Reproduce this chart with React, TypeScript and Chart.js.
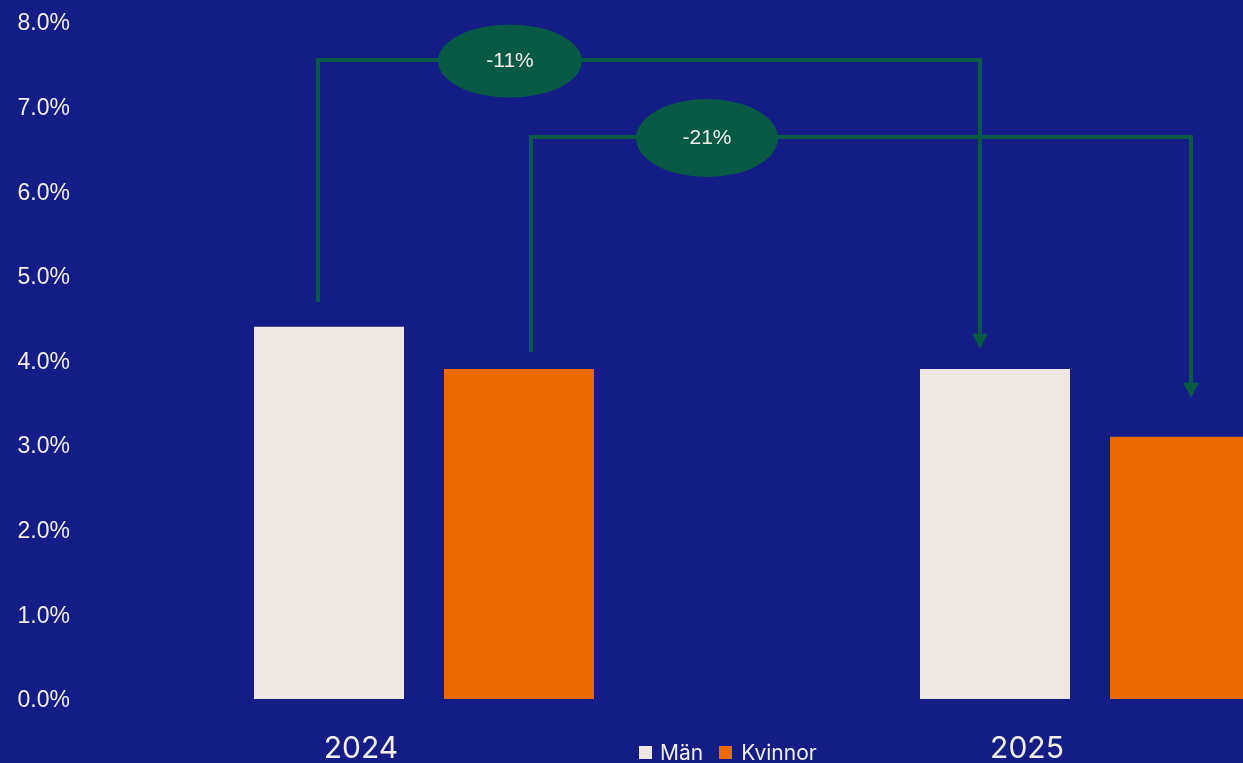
import { useEffect, useRef } from "react";
import { Chart, registerables } from "chart.js";

Chart.register(...registerables);

// ---- data ----
const categories = ["2024", "2025"];
const seriesNames = ["Män", "Kvinnor"];
const menValues = [4.4, 3.9];
const womenValues = [3.9, 3.1];
const changeLabels = ["-11%", "-21%"];
// bracket levels (in % units) for the change annotations
const bracketStartLevels = [4.69, 4.1];
const bracketTopLevels = [7.55, 6.64];
const bracketEndLevels = [4.14, 3.56];

// ---- styles ----
const BG = "#131D85";
const CREAM = "#EFE7E1";
const ORANGE = "#EB6A00";
const GREEN = "#085A45";
const TEXT = "#F2EEEA";

const bracketStyle = [
  { startShift: -11, endShift: -15, labelShift: 192, rx: 72, ry: 36.5 },
  { startShift: 12, endShift: 6, labelShift: 176, rx: 71, ry: 39 },
];

const bracketPlugin = {
  id: "brackets",
  afterDatasetsDraw(chart: any) {
    const ctx = chart.ctx;
    const y = chart.scales.y;
    ctx.save();
    for (let i = 0; i < changeLabels.length; i++) {
      const meta = chart.getDatasetMeta(i);
      const st = bracketStyle[i];
      const xs = meta.data[0].x + st.startShift;
      const xe = meta.data[1].x + st.endShift;
      const ys = y.getPixelForValue(bracketStartLevels[i]);
      const yt = y.getPixelForValue(bracketTopLevels[i]);
      const ye = y.getPixelForValue(bracketEndLevels[i]);
      const headLen = 15;
      const headHalf = 8;
      ctx.strokeStyle = GREEN;
      ctx.fillStyle = GREEN;
      ctx.lineWidth = 4;
      ctx.lineJoin = "miter";
      ctx.beginPath();
      ctx.moveTo(xs, ys);
      ctx.lineTo(xs, yt);
      ctx.lineTo(xe, yt);
      ctx.lineTo(xe, ye - headLen + 1);
      ctx.stroke();
      ctx.beginPath();
      ctx.moveTo(xe - headHalf, ye - headLen);
      ctx.lineTo(xe + headHalf, ye - headLen);
      ctx.lineTo(xe, ye);
      ctx.closePath();
      ctx.fill();
      const cx = xs + st.labelShift;
      ctx.beginPath();
      ctx.ellipse(cx, yt + 1, st.rx, st.ry, 0, 0, Math.PI * 2);
      ctx.fill();
      ctx.fillStyle = TEXT;
      ctx.font = '21px "Liberation Sans", Arial, sans-serif';
      ctx.textAlign = "center";
      ctx.textBaseline = "middle";
      ctx.fillText(changeLabels[i], cx, yt + 1);
    }
    ctx.restore();
  },
};

export default function App() {
  const ref = useRef<HTMLCanvasElement | null>(null);

  useEffect(() => {
    if (!ref.current) return;
    const chart = new Chart(ref.current, {
      type: "bar",
      data: {
        labels: categories,
        datasets: [
          {
            label: seriesNames[0],
            data: menValues,
            backgroundColor: CREAM,
            categoryPercentage: 0.5706,
            barPercentage: 0.7895,
            clip: false as any,
          },
          {
            label: seriesNames[1],
            data: womenValues,
            backgroundColor: ORANGE,
            categoryPercentage: 0.5706,
            barPercentage: 0.7895,
            clip: false as any,
          },
        ],
      },
      options: {
        responsive: false,
        animation: false,
        devicePixelRatio: 1,
        layout: { padding: { top: 22, left: 0, right: 0, bottom: 0 } },
        plugins: {
          legend: { display: false },
          tooltip: { enabled: false },
        },
        scales: {
          x: {
            grid: { display: false, drawTicks: false },
            border: { display: false },
            afterFit: (s: any) => {
              s.height = 64;
              s.paddingLeft = 0;
              s.paddingRight = 0;
            },
            ticks: {
              color: TEXT,
              padding: 32,
              labelOffset: -63,
              maxRotation: 0,
              font: { family: "Inter", size: 30 },
            },
          },
          y: {
            min: 0,
            max: 8,
            grid: { display: false, drawTicks: false },
            border: { display: false },
            afterFit: (s: any) => {
              s.width = 91;
              s.paddingTop = 0;
              s.paddingBottom = 0;
            },
            ticks: {
              stepSize: 1,
              color: TEXT,
              padding: 21,
              labelOffset: 2,
              font: { family: '"Liberation Sans", Arial, sans-serif', size: 23 },
              callback: (v: any) => Number(v).toFixed(1) + "%",
            },
          },
        },
      },
      plugins: [bracketPlugin],
    });
    return () => chart.destroy();
  }, []);

  return (
    <div
      style={{
        position: "absolute",
        left: 0,
        top: 0,
        width: 1243,
        height: 763,
        overflow: "hidden",
        background: BG,
      }}
    >
      <canvas ref={ref} width={1423} height={763} style={{ width: 1423, height: 763, display: "block" }} />
      <div
        style={{
          position: "absolute",
          left: 639,
          top: 740,
          display: "flex",
          alignItems: "center",
          fontFamily: "Inter, sans-serif",
          fontSize: 21,
          color: TEXT,
          whiteSpace: "nowrap",
        }}
      >
        <span style={{ width: 13, height: 13, background: CREAM, display: "inline-block", marginRight: 8 }} />
        <span style={{ marginRight: 16 }}>{seriesNames[0]}</span>
        <span style={{ width: 13, height: 13, background: ORANGE, display: "inline-block", marginRight: 9 }} />
        <span>{seriesNames[1]}</span>
      </div>
    </div>
  );
}
